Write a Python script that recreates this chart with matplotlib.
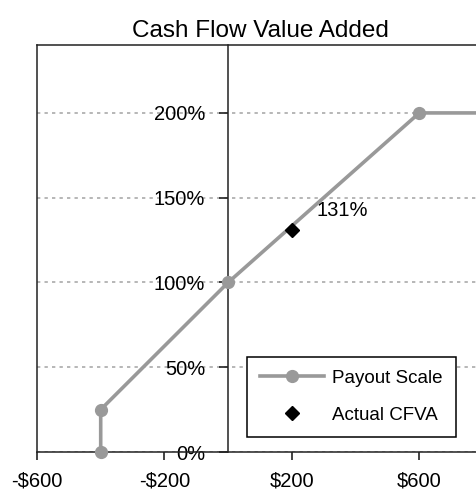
import matplotlib.pyplot as plt
from matplotlib.ticker import FuncFormatter

plt.rcParams['font.family'] = ['Liberation Sans', 'DejaVu Sans']

# payout scale (CFVA in $ vs payout %)
scale_x = [-400, -400, 0, 600, 800]
scale_y = [0, 25, 100, 200, 200]
# actual result
actual_x = [200]
actual_y = [131]
actual_label = '131%'

x_ticks = [-600, -200, 200, 600]
y_ticks = [0, 50, 100, 150, 200]

fig = plt.figure(figsize=(4.76, 4.92), dpi=100)
ax = fig.add_axes([0.0777, 0.0813, 0.937, 0.827])

ax.set_xlim(-600, 800)
ax.set_ylim(0, 240)

ax.plot(scale_x, scale_y, color='#999999', lw=2.6, marker='o', ms=8.5,
        label='Payout Scale', clip_on=False, zorder=3)
ax.plot(actual_x, actual_y, 'D', color='black', ms=7.5, label='Actual CFVA', zorder=4)
ax.annotate(actual_label, (actual_x[0], actual_y[0]), xytext=(18, 14),
            textcoords='offset points', fontsize=14.5, va='center', ha='left')

# y axis drawn at x = 0, outer frame kept on the left
ax.spines['left'].set_position(('data', 0))
ax.axvline(-600, color='#222222', lw=1.1, clip_on=False)
for s in ax.spines.values():
    s.set_linewidth(1.1)
    s.set_color('#222222')

ax.set_xticks(x_ticks)
ax.set_yticks(y_ticks)
ax.xaxis.set_major_formatter(FuncFormatter(lambda v, p: f'-${abs(int(v))}' if v < 0 else f'${int(v)}'))
ax.yaxis.set_major_formatter(FuncFormatter(lambda v, p: f'{int(v)}%'))
ax.tick_params(axis='both', direction='out', width=1.2, labelsize=14.5, colors='#222222')
ax.tick_params(axis='x', length=6, pad=8)
ax.tick_params(axis='y', length=6.5, pad=10)
for lab in ax.get_xticklabels() + ax.get_yticklabels():
    lab.set_color('black')

ax.yaxis.grid(True, linestyle=(0, (2, 2.5)), color='#aaaaaa', lw=1.2)
ax.set_axisbelow(True)

ax.set_title('Cash Flow Value Added', fontsize=17.5, pad=6)

leg = ax.legend(loc='lower left', bbox_to_anchor=(0.471, 0.037), borderaxespad=0,
                fontsize=13.5, handlelength=3.4, handletextpad=0.45, labelspacing=1.05,
                borderpad=0.7, fancybox=False, framealpha=1, edgecolor='black')
leg.get_frame().set_linewidth(1.1)

fig.savefig('out.png', dpi=100)
